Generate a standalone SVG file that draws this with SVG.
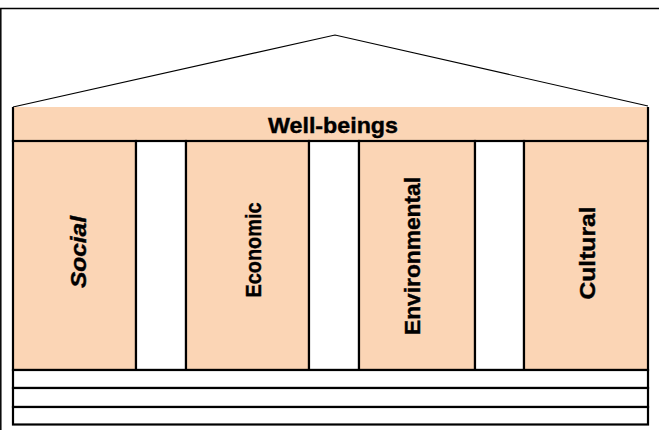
<svg xmlns="http://www.w3.org/2000/svg" width="659" height="443" viewBox="0 0 659 443">
  <style>
    .frame { fill: none; stroke: #000; stroke-width: 1.5; }
    .roof { fill: none; stroke: #000; stroke-width: 1.2; }
    .peach { fill: #FBD5B5; stroke: #000; stroke-width: 2.2; }
    .blank { fill: #FFFFFF; stroke: #000; stroke-width: 2.2; }
    .lbl { font-family: "Liberation Sans", Arial, sans-serif; font-weight: bold; font-size: 22px; fill: #000; stroke: #000; stroke-width: 0.4; text-anchor: middle; }
  </style>

  <!-- outer frame (top and left edges) -->
  <path class="frame" d="M0.8,430 V8.5 H659"/>

  <!-- roof -->
  <g id="roof">
    <path class="roof" d="M13,107 L335,35 L648,106"/>
  </g>

  <!-- entablature band -->
  <g id="well-beings">
    <path d="M13,107 H648 V141 H13 Z" fill="#FBD5B5"/>
    <path d="M13,107 V141 H648 V107" fill="none" stroke="#000" stroke-width="2.2"/>
    <text class="lbl" x="333" y="133" textLength="130" lengthAdjust="spacingAndGlyphs">Well-beings</text>
  </g>

  <!-- pillars -->
  <g id="social">
    <rect class="peach" x="13" y="141" width="123" height="229"/>
    <text class="lbl" font-style="italic" transform="translate(86,252) rotate(-90)" textLength="72" lengthAdjust="spacingAndGlyphs">Social</text>
  </g>
  <rect class="blank" x="136" y="141" width="50" height="229"/>
  <g id="economic">
    <rect class="peach" x="186" y="141" width="123" height="229"/>
    <text class="lbl" transform="translate(261,250) rotate(-90)" textLength="95" lengthAdjust="spacingAndGlyphs">Economic</text>
  </g>
  <rect class="blank" x="309" y="141" width="50" height="229"/>
  <g id="environmental">
    <rect class="peach" x="359" y="141" width="116" height="229"/>
    <text class="lbl" transform="translate(420,256) rotate(-90)" textLength="158" lengthAdjust="spacingAndGlyphs">Environmental</text>
  </g>
  <rect class="blank" x="475" y="141" width="49" height="229"/>
  <g id="cultural">
    <rect class="peach" x="524" y="141" width="124" height="229"/>
    <text class="lbl" transform="translate(595,253) rotate(-90)" textLength="93" lengthAdjust="spacingAndGlyphs">Cultural</text>
  </g>

  <!-- base steps -->
  <g id="base">
    <rect class="blank" x="13" y="370" width="635" height="18"/>
    <rect class="blank" x="13" y="388" width="635" height="19"/>
    <rect class="blank" x="13" y="407" width="635" height="17.5"/>
  </g>
</svg>
